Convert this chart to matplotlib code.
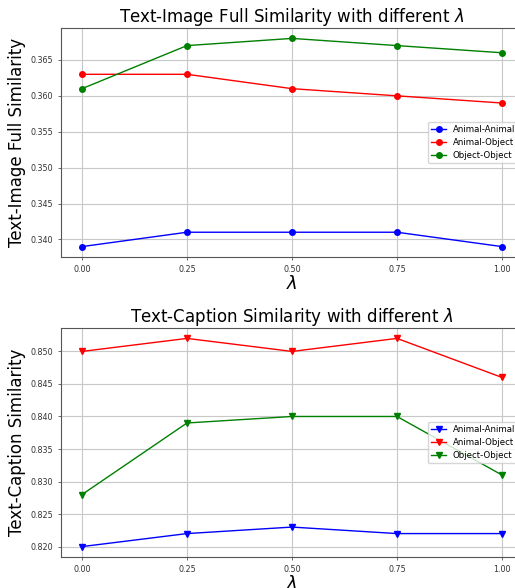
import matplotlib.pyplot as plt

# lambda values
lambdas = [0.0, 0.25, 0.5, 0.75, 1.0]
series_names = ["Animal-Animal", "Animal-Object", "Object-Object"]
colors = ["blue", "red", "green"]

# Text-Image Full similarity
full_aa = [0.339, 0.341, 0.341, 0.341, 0.339]
full_ao = [0.363, 0.363, 0.361, 0.360, 0.359]
full_oo = [0.361, 0.367, 0.368, 0.367, 0.366]

# Text-Caption similarity
cap_aa = [0.820, 0.822, 0.823, 0.822, 0.822]
cap_ao = [0.850, 0.852, 0.850, 0.852, 0.846]
cap_oo = [0.828, 0.839, 0.840, 0.840, 0.831]

fig = plt.figure(figsize=(5.15, 5.88), dpi=100)
W, H = 515.0, 588.0

def make_axes(top_px, bottom_px):
    # the original picture is cropped on the right, so the axes run past the edge
    left, right = 61, 523
    return fig.add_axes([left / W, 1 - bottom_px / H, (right - left) / W, (bottom_px - top_px) / H])

panels = [
    (make_axes(28, 257), [full_aa, full_ao, full_oo], "o",
     "Text-Image Full Similarity with different $\\lambda$", "Text-Image Full Similarity"),
    (make_axes(328, 557), [cap_aa, cap_ao, cap_oo], "v",
     "Text-Caption Similarity with different $\\lambda$", "Text-Caption Similarity"),
]

for ax, data, marker, title, ylabel in panels:
    for vals, name, c in zip(data, series_names, colors):
        ax.plot(lambdas, vals, marker=marker, color=c, label=name, linewidth=1.0, markersize=4)
    ax.set_xticks(lambdas)
    ax.grid(True, color="#c8c8c8", linewidth=0.8)
    ax.set_axisbelow(True)
    ax.tick_params(labelsize=5.8, length=2, width=0.5, colors="#333333")
    ax.yaxis.set_major_formatter(plt.FormatStrFormatter("%.3f"))
    ax.set_title(title, fontsize=12, pad=3)
    ax.set_ylabel(ylabel, fontsize=12, labelpad=3)
    ax.set_xlabel("$\\lambda$", fontsize=13, labelpad=1)
    for s in ax.spines.values():
        s.set_color("#555555")
    ax.legend(loc="center right", fontsize=6.2, framealpha=0.8, handlelength=1.7,
              labelspacing=0.45)

fig.savefig("out.png", dpi=100)
